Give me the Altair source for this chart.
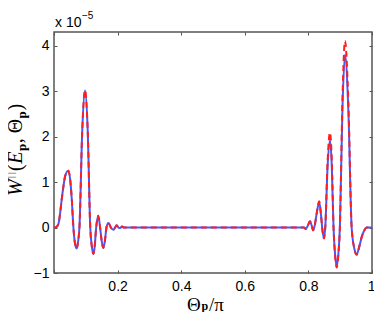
import altair as alt
import pandas as pd

# ---- data (W values in units of 1e-5) ----
theta = [0.0, 0.007, 0.014, 0.019, 0.024, 0.030, 0.035, 0.045, 0.051, 0.056, 0.061, 0.066, 0.071, 0.076,
         0.080, 0.0888, 0.0975, 0.106, 0.114, 0.119, 0.124, 0.128, 0.132, 0.139, 0.145, 0.150, 0.155,
         0.160, 0.165, 0.171, 0.179, 0.187, 0.192, 0.197, 0.203, 0.208, 0.214, 0.220, 0.230,
         0.780, 0.786, 0.792, 0.798, 0.805, 0.810, 0.815, 0.820, 0.827, 0.834, 0.840, 0.844, 0.849,
         0.853, 0.8605, 0.868, 0.8735, 0.879, 0.884, 0.889, 0.894, 0.899, 0.907, 0.915, 0.9255, 0.936,
         0.944, 0.952, 0.960, 0.968, 0.976, 0.983, 1.0]
w_solid = [0.0, 0.01, 0.08, 0.3, 0.6, 0.92, 1.13, 1.25, 1.05, 0.61, 0.0, -0.35, -0.46, -0.3,
           0.0, 2.13, 3.02, 2.13, 0.0, -0.42, -0.58, -0.42, -0.05, 0.26, 0.0, -0.3, -0.45,
           -0.3, 0.0, 0.1, 0.0, -0.05, 0.0, 0.05, 0.0, -0.01, 0.02, 0.0, 0.0,
           0.0, 0.0, -0.03, 0.04, 0.14, 0.05, -0.06, 0.05, 0.35, 0.56, 0.25, -0.05, -0.23,
           0.0, 1.36, 1.92, 1.36, 0.0, -0.6, -0.85, -0.6, 0.0, 2.6, 3.8, 2.6, 0.0,
           -0.45, -0.59, -0.42, -0.2, -0.06, 0.0, 0.0]
w_dashed = [0.0, 0.01, 0.08, 0.3, 0.6, 0.92, 1.13, 1.25, 1.05, 0.61, 0.0, -0.35, -0.46, -0.3,
            0.0, 2.13, 3.02, 2.13, 0.0, -0.42, -0.58, -0.42, -0.05, 0.26, 0.0, -0.3, -0.45,
            -0.3, 0.0, 0.1, 0.0, -0.05, 0.0, 0.05, 0.0, -0.01, 0.02, 0.0, 0.0,
            0.0, 0.0, -0.03, 0.04, 0.14, 0.05, -0.06, 0.05, 0.35, 0.58, 0.25, -0.05, -0.24,
            0.0, 1.48, 2.09, 1.48, 0.0, -0.62, -0.88, -0.62, 0.0, 2.8, 4.1, 2.8, 0.0,
            -0.45, -0.6, -0.42, -0.2, -0.06, 0.0, 0.0]

x_tick_labels = [0.2, 0.4, 0.6, 0.8, 1.0]
x_ticks = [0.0, 0.2, 0.4, 0.6, 0.8, 1.0]
y_ticks = [-1, 0, 1, 2, 3, 4]

BLUE = "#3f5cff"
RED = "#ff1e1e"
FRAME = "#555555"
SANS = "Liberation Sans"
SERIF = "Liberation Serif"

df = pd.DataFrame({"theta": theta, "solid": w_solid, "dashed": w_dashed})

xs = alt.Scale(domain=[0, 1], nice=False, zero=False)
ys = alt.Scale(domain=[-1, 4.3], nice=False, zero=False)


def tick_axis(orient, values):
    return alt.Axis(orient=orient, values=values, labels=False, domain=False, grid=False,
                    ticks=True, tickSize=3, tickWidth=1, tickColor=FRAME, offset=-3, title=None)


blue = alt.Chart(df).mark_line(color=BLUE, strokeWidth=2, interpolate="monotone").encode(
    x=alt.X("theta:Q", scale=xs,
            axis=alt.Axis(orient="bottom", values=x_tick_labels, format="~g", ticks=False, tickSize=0,
                          domain=False, grid=False, labelFont=SANS, labelFontSize=14, labelColor="black",
                          labelPadding=6, labelFlush=1, labelFlushOffset=3, labelOverlap=False,
                          title=None)),
    y=alt.Y("solid:Q", scale=ys,
            axis=alt.Axis(orient="left", values=y_ticks, format="d", ticks=False, tickSize=0,
                          domain=False, grid=False, labelFont=SANS, labelFontSize=14, labelColor="black",
                          labelPadding=5, labelOverlap=False, title=None)),
)

red = alt.Chart(df).mark_line(color=RED, strokeWidth=2, strokeDash=[6, 4], interpolate="monotone").encode(
    x=alt.X("theta:Q", scale=xs, axis=tick_axis("top", x_ticks)),
    y=alt.Y("dashed:Q", scale=ys, axis=tick_axis("right", y_ticks)),
)

tick_layer = alt.Chart(df).mark_line(opacity=0).encode(
    x=alt.X("theta:Q", scale=xs, axis=tick_axis("bottom", x_ticks)),
    y=alt.Y("solid:Q", scale=ys, axis=tick_axis("left", y_ticks)),
)


def txt(s, x, y, size, font, style="normal", weight="normal", angle=0):
    return alt.Chart(pd.DataFrame({"t": [s]})).mark_text(
        align="left", baseline="alphabetic", font=font, fontSize=size, fontStyle=style,
        fontWeight=weight, angle=angle, color="black"
    ).encode(x=alt.value(x), y=alt.value(y), text="t:N")


texts = [
    # exponent label
    txt("x 10", 1, -5, 14, SANS),
    txt("\u22125", 28, -13, 10, SANS),
    # x title  Θp/π
    txt("\u0398", 133, 278.5, 19, SERIF),
    txt("p", 147.5, 277.5, 12, SERIF, weight="bold"),
    txt("/\u03c0", 155, 278.5, 19, SERIF),
    # y title  W∥(Ep, Θp)
    txt("W", -32.5, 164, 20, SERIF, style="italic", angle=270),
    txt("| |", -40.5, 146, 9, SERIF, angle=270),
    txt("(", -32.5, 139, 20, SERIF, angle=270),
    txt("E", -32.5, 131.8, 20, SERIF, style="italic", angle=270),
    txt("p", -28.5, 119, 13, SERIF, weight="bold", angle=270),
    txt(", \u0398", -32.5, 111.3, 20, SERIF, angle=270),
    txt("p", -28.5, 86.4, 13, SERIF, weight="bold", angle=270),
    txt(")", -32.5, 78.5, 20, SERIF, angle=270),
]

chart = alt.layer(blue, red, tick_layer, *texts).resolve_axis(
    x="independent", y="independent"
).properties(
    width=318, height=241,
    autosize=alt.AutoSizeParams(type="none"),
    padding={"left": 46, "top": 24, "right": 2, "bottom": 39},
).configure_view(stroke=FRAME, strokeWidth=1.5)

chart.save("out.html", embed_options={"renderer": "svg", "actions": False})
